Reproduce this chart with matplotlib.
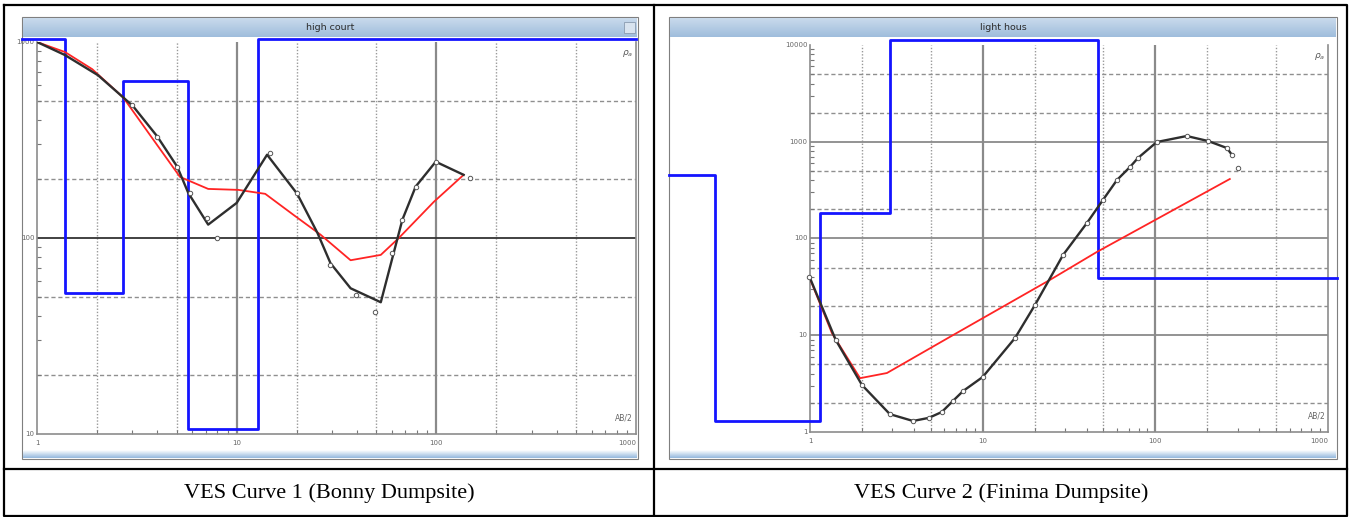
import numpy as np
import matplotlib
matplotlib.use("Agg")
import matplotlib.pyplot as plt
from matplotlib.patches import Rectangle
from matplotlib.lines import Line2D
from matplotlib.ticker import LogLocator, NullFormatter, NullLocator

W, H = 1352, 517

# --- VES 1 (Bonny, "high court") ---
ves1_field_ab2 = [1.0, 1.38, 2.02, 2.7, 3.03, 4.0, 5.04, 5.72, 7.2, 10.0, 14.2, 20.1,
                  25.4, 29.5, 37.2, 52.7, 67.6, 78.8, 99.3, 137]
ves1_field_rho = [1000, 858, 677, 522, 470, 330, 231, 170, 117, 151, 266, 168,
                  106, 74.4, 55.4, 47, 124, 183, 245, 210]
ves1_obs_ab2 = [3.0, 4.0, 5.04, 5.86, 7.1, 8.0, 14.7, 20.1, 29.5, 39.4, 49.5, 60.3,
                67.6, 78.8, 99.3, 148]
ves1_obs_rho = [475, 326, 231, 170, 127, 100, 273, 170, 72.7, 51, 41.7, 83.8,
                124, 183, 245, 203]
ves1_calc_ab2 = [1.0, 1.38, 1.89, 2.7, 3.82, 5.2, 7.2, 10.2, 13.9, 19.3, 26.3, 37.2,
                 52.7, 64.9, 97.2, 137]
ves1_calc_rho = [1000, 889, 727, 522, 318, 205, 178, 176, 168, 131, 104, 77,
                 82, 100, 153, 210]
ves1_layer_depth = [0.84, 1.38, 2.7, 5.72, 12.8, 1000]
ves1_layer_rho = [1035, 52.2, 631, 10.6, 1035]

# --- VES 2 (Finima, "light hous") ---
ves2_field_ab2 = [1.0, 1.41, 2.0, 2.9, 3.95, 4.88, 5.8, 6.72, 7.7, 10.0, 15.4, 20.1,
                  29.2, 40.2, 49.7, 60, 71.3, 79.3, 102, 152, 202, 260, 278]
ves2_field_rho = [39, 8.93, 3.06, 1.53, 1.30, 1.40, 1.61, 2.09, 2.65, 3.7, 9.37, 20.6,
                  67.5, 145, 250, 403, 548, 679, 994, 1146, 1018, 861, 730]
ves2_obs_ab2 = [0.99, 301]
ves2_obs_rho = [40, 535]
ves2_calc_ab2 = [0.99, 1.34, 1.95, 2.79, 6.45, 24.5, 45.8, 270]
ves2_calc_rho = [40, 10.5, 3.6, 4.07, 9.6, 37.3, 72.5, 412]
ves2_layer_depth = [0.153, 0.282, 1.14, 2.9, 46.5, 1125]
ves2_layer_rho = [453, 1.30, 183, 11200, 39]

fig = plt.figure(figsize=(W / 100, H / 100), dpi=100)
fig.patch.set_facecolor("white")


def fbox(x0, y0, x1, y1):
    return [x0 / W, 1 - y1 / H, (x1 - x0) / W, (y1 - y0) / H]


def fline(xs, ys, **kw):
    fig.add_artist(Line2D([x / W for x in xs], [1 - y / H for y in ys],
                          transform=fig.transFigure, zorder=20, **kw))


def gradient_bar(box, top, bottom, text=None):
    bar = fig.add_axes(fbox(*box))
    c0 = np.array(matplotlib.colors.to_rgb(top))
    c1 = np.array(matplotlib.colors.to_rgb(bottom))
    t = np.linspace(0, 1, 32)[:, None, None]
    bar.imshow(c0 + (c1 - c0) * t, aspect="auto", extent=(0, 1, 0, 1))
    bar.set_axis_off()
    if text:
        bar.text(0.5, 0.5, text, ha="center", va="center", fontsize=6.8, color="#2b2b2b")
    return bar


def window(box, title, button=False):
    x0, y0, x1, y1 = box
    fig.add_artist(Rectangle((x0 / W, 1 - y1 / H), (x1 - x0) / W, (y1 - y0) / H,
                             transform=fig.transFigure, facecolor="white",
                             edgecolor="#7f7f7f", lw=0.8, zorder=-5))
    gradient_bar((x0 + 1, y0 + 1, x1 - 1, y0 + 20), "#c9daec", "#9fbddc", title)
    gradient_bar((x0 + 1, y1 - 9, x1 - 1, y1 - 1), "#ffffff", "#93b8dd")
    if button:
        fig.add_artist(Rectangle(((x1 - 14) / W, 1 - (y0 + 16) / H), 11 / W, 11 / H,
                                 transform=fig.transFigure, facecolor="#d8e3ef",
                                 edgecolor="#8a9bb0", lw=0.6, zorder=10))


def ves_axes(box, xlim, ylim, dark_y=None):
    ax = fig.add_axes(fbox(*box))
    ax.set_xscale("log")
    ax.set_yscale("log")
    ax.set_xlim(*xlim)
    ax.set_ylim(*ylim)
    ax.set_facecolor("none")
    for s in ax.spines.values():
        s.set_color("#8c8c8c")
        s.set_linewidth(1.2)
    ax.spines["top"].set_visible(False)

    # decade lines solid, 2 and 5 lines dashed
    xd = [10.0 ** k for k in range(int(np.log10(xlim[0])), int(np.log10(xlim[1])) + 1)]
    yd = [10.0 ** k for k in range(int(np.log10(ylim[0])), int(np.log10(ylim[1])) + 1)]
    for d in xd:
        if xlim[0] < d < xlim[1]:
            ax.axvline(d, color="#8a8a8a", lw=1.6, zorder=1)
        for m in (2, 5):
            if d * m < xlim[1]:
                ax.axvline(d * m, color="#999999", lw=1.0, ls=(0, (1, 1.3)), zorder=1)
    for d in yd:
        if ylim[0] < d < ylim[1]:
            col = "#333333" if d == dark_y else "#8a8a8a"
            ax.axhline(d, color=col, lw=1.3, zorder=1)
        for m in (2, 5):
            if d * m < ylim[1]:
                ax.axhline(d * m, color="#8f8f8f", lw=1.0, ls=(0, (3, 2)), zorder=1)

    ax.xaxis.set_major_locator(NullLocator())
    ax.yaxis.set_major_locator(NullLocator())
    ax.xaxis.set_minor_locator(LogLocator(base=10, subs=np.arange(2, 10)))
    ax.yaxis.set_minor_locator(LogLocator(base=10, subs=np.arange(2, 10)))
    ax.xaxis.set_minor_formatter(NullFormatter())
    ax.yaxis.set_minor_formatter(NullFormatter())
    ax.tick_params(which="minor", direction="in", length=3, width=0.8, color="#777777")

    for d in xd:
        ax.annotate(f"{d:g}", (d, ylim[0]), xytext=(0, -4), textcoords="offset points",
                    ha="right" if d == xlim[1] else "center", va="top",
                    fontsize=5, color="#666666", annotation_clip=False)
    for d in yd:
        ax.annotate(f"{d:g}", (xlim[0], d), xytext=(-2, 0), textcoords="offset points",
                    ha="right", va="center", fontsize=5, color="#666666",
                    annotation_clip=False)
    ax.text(0.995, 0.985, r"$\rho_a$", transform=ax.transAxes, ha="right", va="top",
            fontsize=6.5, color="#555555")
    ax.text(0.995, 0.03, "AB/2", transform=ax.transAxes, ha="right", va="bottom",
            fontsize=5.5, color="#666666")
    return ax


def draw_ves(ax, field, obs, calc, layers):
    lx, lr = layers
    ax.step(lx, lr + [lr[-1]], where="post", color="#1414ff", lw=2.0, zorder=5,
            clip_on=False)
    ax.plot(*calc, color="#ff2424", lw=1.3, zorder=6)
    ax.plot(*field, color="#2e2e2e", lw=1.7, zorder=7)
    ax.plot(*obs, ls="none", marker="o", ms=3.2, mfc="white", mec="#555555",
            mew=0.7, zorder=8, clip_on=False)


# left panel
window((22, 17, 638, 459), "high court", button=True)
ax1 = ves_axes((37, 42, 636, 434), (1, 1000), (10, 1000), dark_y=100)
draw_ves(ax1, (ves1_field_ab2, ves1_field_rho), (ves1_obs_ab2, ves1_obs_rho),
         (ves1_calc_ab2, ves1_calc_rho), (ves1_layer_depth, ves1_layer_rho))

# right panel
window((669, 17, 1337, 459), "light hous")
ax2 = ves_axes((810, 45, 1328, 432), (1, 1000), (1, 10000))
draw_ves(ax2, (ves2_field_ab2, ves2_field_rho),
         (ves2_field_ab2[1:] + ves2_obs_ab2, ves2_field_rho[1:] + ves2_obs_rho),
         (ves2_calc_ab2, ves2_calc_rho), (ves2_layer_depth, ves2_layer_rho))

# table frame and captions
lw = 1.6
fline([4, 1347, 1347, 4, 4], [5, 5, 516, 516, 5], color="black", lw=lw)
fline([654, 654], [5, 516], color="black", lw=lw)
fline([4, 1347], [469, 469], color="black", lw=lw)
fig.text(329 / W, 1 - 493 / H, "VES Curve 1 (Bonny Dumpsite)", ha="center", va="center",
         fontsize=16, family="Liberation Serif", color="black")
fig.text(1001 / W, 1 - 493 / H, "VES Curve 2 (Finima Dumpsite)", ha="center", va="center",
         fontsize=16, family="Liberation Serif", color="black")

fig.savefig("out.png", dpi=100)
